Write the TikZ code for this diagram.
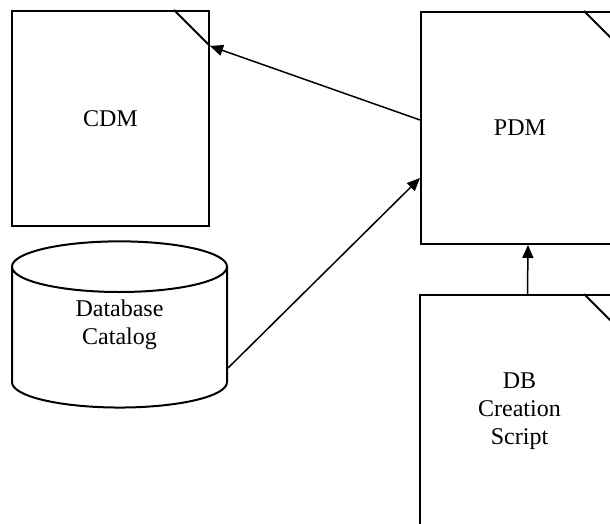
\documentclass[tikz,border=0pt]{standalone}
\usepackage{fontspec}
\setmainfont{Liberation Serif}
\usetikzlibrary{arrows.meta,shapes.geometric}

\begin{document}
\begin{tikzpicture}[x=0.5pt, y=0.5pt,
  doc/.style={draw, line width=1pt, align=center, font=\fontsize{12}{14}\selectfont},
  arr/.style={-{Triangle[length=6.5pt,width=5.5pt]}, line width=0.75pt}]

\def \fold {18pt} % size of the dog-ear

\useasboundingbox (0,0) rectangle (610,524);

\node[doc, minimum width=98.5pt, minimum height=107.5pt] (cdm) at (110.5,405.5) {CDM};
\node[doc, minimum width=99pt, minimum height=116pt] (pdm) at (520,396) {PDM};
\node[doc, minimum width=99.5pt, minimum height=116pt] (script) at (519.5,113) {DB\\Creation\\Script};
\node[doc, cylinder, shape border rotate=90, aspect=0.5,
  minimum width=107.5pt, minimum height=81pt] (catalog) at (119.5,182) {Database\\Catalog\\[6pt]\mbox{}};

\foreach \d in {cdm,pdm,script}
  \draw[line width=1pt] ([xshift=-\fold]\d.north east) -- ([yshift=-\fold]\d.north east);

\draw[arr] ([yshift=4pt]pdm.west) -- ([yshift=-\fold]cdm.north east);
\draw[arr] ([yshift=-13pt]catalog.east) -- ([yshift=-25pt]pdm.west);
\draw[arr] ([xshift=4pt]script.north) -- ([xshift=4pt]pdm.south);
\end{tikzpicture}
\end{document}
